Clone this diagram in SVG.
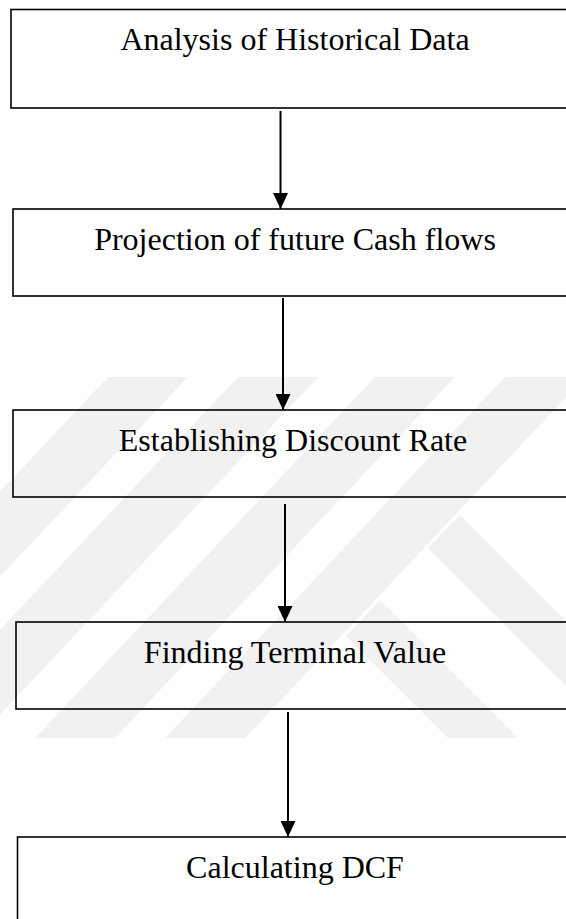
<svg xmlns="http://www.w3.org/2000/svg" width="566" height="919" viewBox="0 0 566 919">
  <defs>
    <style>
      .box { fill: none; stroke: #000; stroke-width: 1.6; }
      .lbl { font-family: "Liberation Serif", "Times New Roman", serif; font-size: 32px; fill: #000; text-anchor: middle; }
      .conn { stroke: #000; stroke-width: 2; fill: none; }
      .wm { fill: #f1f1f1; }
    </style>
    <marker id="arrow" markerUnits="userSpaceOnUse" markerWidth="16" markerHeight="15" refX="16" refY="7.5" orient="auto">
      <path d="M0,0 L16,7.5 L0,15 z" fill="#000"/>
    </marker>
    <clipPath id="wmclip">
      <rect x="0" y="377" width="566" height="361"/>
    </clipPath>
  </defs>
  <rect width="566" height="919" fill="#ffffff"/>

  <g id="watermark" clip-path="url(#wmclip)">
    <polygon class="wm" points="-232,738 -152,738 188,377 108,377"/>
    <polygon class="wm" points="-102,738 -22,738 318,377 238,377"/>
    <polygon class="wm" points="35,738 115,738 455,377 375,377"/>
    <polygon class="wm" points="165,738 245,738 585,377 505,377"/>
    <polygon class="wm" points="460,515 600,655 600,720 428,548"/>
    <polygon class="wm" points="346,636 380,600 518,738 448,738"/>
  </g>

  <g id="n1">
    <rect class="box" x="11" y="9.5" width="600" height="98.5"/>
    <text class="lbl" x="295" y="50">Analysis of Historical Data</text>
  </g>
  <g id="n2">
    <rect class="box" x="13" y="209" width="600" height="87"/>
    <text class="lbl" x="295" y="249.5">Projection of future Cash flows</text>
  </g>
  <g id="n3">
    <rect class="box" x="13" y="410" width="600" height="87"/>
    <text class="lbl" x="293" y="450.5">Establishing Discount Rate</text>
  </g>
  <g id="n4">
    <rect class="box" x="16" y="622" width="600" height="87"/>
    <text class="lbl" x="295" y="662.5">Finding Terminal Value</text>
  </g>
  <g id="n5">
    <rect class="box" x="17.5" y="837" width="600" height="120"/>
    <text class="lbl" x="295" y="877.5">Calculating DCF</text>
  </g>

  <g id="connectors">
    <line class="conn" x1="280.5" y1="111" x2="280.5" y2="209" marker-end="url(#arrow)"/>
    <line class="conn" x1="283" y1="298" x2="283" y2="410" marker-end="url(#arrow)"/>
    <line class="conn" x1="285" y1="504" x2="285" y2="622" marker-end="url(#arrow)"/>
    <line class="conn" x1="288" y1="712" x2="288" y2="837" marker-end="url(#arrow)"/>
  </g>
</svg>
